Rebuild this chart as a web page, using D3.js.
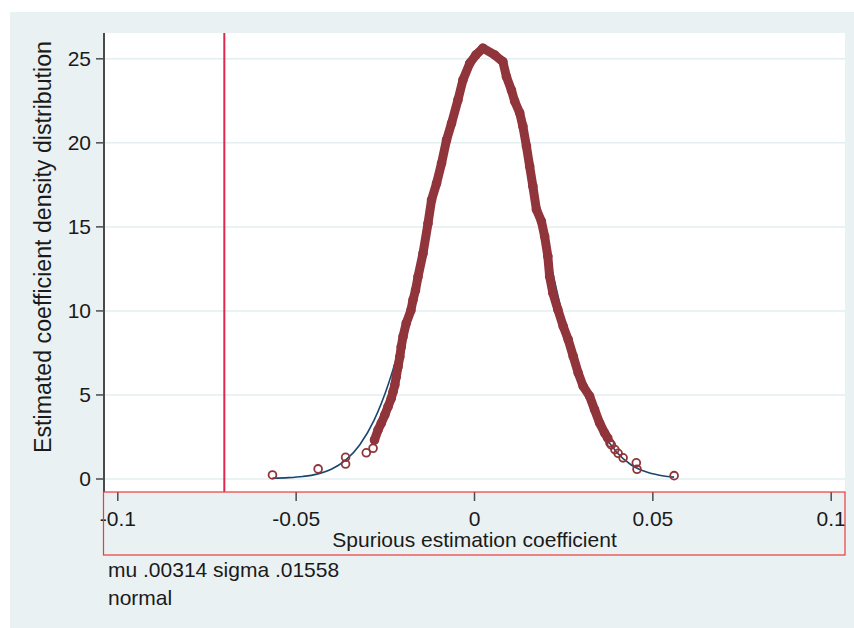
<!DOCTYPE html>
<html>
<head>
<meta charset="utf-8">
<script src="https://cdn.jsdelivr.net/npm/d3@7/dist/d3.min.js"></script>
<style>
  body { margin: 0; background: #fff; }
  #chart { width: 854px; height: 628px; }
  text { font-family: "Liberation Sans", Arial, sans-serif; fill: #1a1a1a; }
</style>
</head>
<body>
<div id="chart"></div>
<script>
// tick values / labels
const xTicks = [-0.1, -0.05, 0, 0.05, 0.1];
const xTickLabels = ['-0.1', '-0.05', '0', '0.05', '0.1'];
const yTicks = [0, 5, 10, 15, 20, 25];
const xTitle = 'Spurious estimation coefficient';
const yTitle = 'Estimated coefficient density distribution';
const notes = ['mu .00314 sigma .01558', 'normal'];
const xLineAt = -0.07;

// kernel density estimates (markers)
const densX = [-0.0565, -0.0437, -0.0360, -0.0360, -0.0302, -0.0283, -0.0279, -0.0269, -0.0260, -0.0250,
               -0.0241, -0.0232, -0.0227, -0.0222, -0.0218, -0.0213, -0.0208, -0.0204, -0.0199, -0.0190,
               -0.0177, -0.0171, -0.0164, -0.0157, -0.0143, -0.0129, -0.0119, -0.0105, -0.0091, -0.0077,
               -0.0063, -0.0045, -0.0031, -0.0012, 0.0005, 0.0025, 0.0058, 0.0081, 0.0091, 0.0105,
               0.0114, 0.0128, 0.0137, 0.0147, 0.0156, 0.0165, 0.0175, 0.0189, 0.0198, 0.0207,
               0.0212, 0.0221, 0.0235, 0.0250, 0.0264, 0.0278, 0.0292, 0.0306, 0.0324, 0.0338,
               0.0352, 0.0366, 0.0375, 0.0381, 0.0385, 0.0395, 0.0404, 0.0418, 0.0455, 0.0457, 0.0561];
const densY = [0.21, 0.57, 0.86, 1.26, 1.53, 1.80, 2.29, 2.89, 3.29, 3.78,
               4.27, 4.77, 5.16, 5.56, 6.05, 6.65, 7.24, 7.84, 8.44, 9.24,
               10.0, 10.62, 11.2, 12.0, 13.39, 15.17, 16.57, 17.56, 18.75, 20.14,
               21.13, 22.52, 23.71, 24.70, 25.19, 25.60, 25.2, 24.8, 23.9, 23.1,
               22.45, 21.76, 20.96, 19.77, 18.58, 17.39, 16.0, 15.3, 14.41, 13.22,
               12.03, 11.04, 10.05, 9.06, 8.27, 7.28, 6.29, 5.49, 4.90, 4.10,
               3.31, 2.72, 2.40, 2.12, 2.0, 1.72, 1.5, 1.23, 0.93, 0.55, 0.17];

// normal density overlay
const normalX = [-0.0565, -0.052, -0.048, -0.044, -0.040, -0.036, -0.032, -0.028, -0.024, -0.020,
                 -0.016, -0.012, -0.008, -0.004, 0.000, 0.003, 0.004, 0.008, 0.012, 0.016,
                 0.020, 0.024, 0.028, 0.032, 0.036, 0.040, 0.044, 0.048, 0.052, 0.0561];
const normalY = [0.02, 0.05, 0.12, 0.26, 0.55, 1.09, 2.01, 3.47, 5.62, 8.50,
                 12.03, 15.97, 19.83, 23.05, 25.09, 25.6, 25.57, 24.39, 21.78, 18.21,
                 14.26, 10.45, 7.17, 4.61, 2.77, 1.56, 0.82, 0.41, 0.19, 0.08];

const chart = {};

chart.create = function(config){
  chart.config = config;
  this.config.width_svg = 854;
  this.config.height_svg = 628;
  this.config.plot = {left: 104, right: 845, top: 33, bottom: 492};
  this.config.colorRule = {
    'bg': '#eaf1f3',
    'grid': '#e3eef0',
    'axis': '#4a4a4a',
    'marker': '#90353b',
    'normal': '#1a476f',
    'xline': '#e0284f',
    'box': '#ee3a3c'
  };
  this.config.svg = d3.select(`#${this.config.target}`)
                      .append('svg')
                      .attr('width', this.config.width_svg)
                      .attr('height', this.config.height_svg);
  this.update();
}

chart.update = function(){
  let plot = this.config.plot,
      colorRule = this.config.colorRule,
      svg = this.config.svg.append('g');
  let dens = densX.map((d, i) => [d, densY[i]]);
  let normal = normalX.map((d, i) => [d, normalY[i]]);

  let xScale = d3.scaleLinear()
                .domain([-0.1, 0.1])
                .range([117.3, 830.7]);
  let yScale = d3.scaleLinear()
                .domain([0, 25])
                .range([478.5, 58.3]);

  // graph region + plot region
  svg.append('rect')
    .attr('x', 10).attr('y', 12)
    .attr('width', 844).attr('height', 616)
    .attr('fill', colorRule.bg);
  svg.append('rect')
    .attr('x', plot.left).attr('y', plot.top)
    .attr('width', plot.right - plot.left).attr('height', plot.bottom - plot.top)
    .attr('fill', '#fff');

  let yAxis = g => g.attr('transform', `translate(${plot.left}, 0)`)
                  .call(d3.axisLeft(yScale).tickValues(yTicks).tickSize(8).tickPadding(5).tickFormat(d3.format('d')))
                  .call(g => g.select('.domain').remove())
                  .call(g => g.selectAll('.tick line').clone()
                              .attr('x1', 0)
                              .attr('x2', plot.right - plot.left)
                              .attr('stroke', colorRule.grid)
                              .attr('stroke-width', 1.5))
                  .call(g => g.selectAll('.tick line:first-of-type')
                              .attr('stroke', colorRule.axis)
                              .attr('stroke-width', 1.5))
                  .call(g => g.selectAll('.tick text')
                              .attr('font-size', 21)
                              .attr('fill', '#1a1a1a'));
  let xAxis = g => g.attr('transform', `translate(0, ${plot.bottom})`)
                  .call(d3.axisBottom(xScale).tickValues(xTicks).tickSize(9).tickPadding(10)
                          .tickFormat((d, i) => xTickLabels[i]))
                  .call(g => g.select('.domain').remove())
                  .call(g => g.selectAll('.tick line')
                              .attr('stroke', colorRule.axis)
                              .attr('stroke-width', 1.5))
                  .call(g => g.selectAll('.tick text')
                              .attr('font-size', 21)
                              .attr('fill', '#1a1a1a'));

  svg.append('g').call(yAxis);
  svg.append('g').call(xAxis);

  // y axis line
  svg.append('line')
    .attr('x1', plot.left).attr('x2', plot.left)
    .attr('y1', plot.top).attr('y2', plot.bottom)
    .attr('stroke', colorRule.axis)
    .attr('stroke-width', 2);

  // xline
  svg.append('line')
    .attr('x1', xScale(xLineAt)).attr('x2', xScale(xLineAt))
    .attr('y1', plot.top).attr('y2', plot.bottom)
    .attr('stroke', colorRule.xline)
    .attr('stroke-width', 2);

  // normal overlay
  let line = d3.line()
              .x(d => xScale(d[0]))
              .y(d => yScale(d[1]))
              .curve(d3.curveMonotoneX);
  svg.append('path')
    .attr('fill', 'none')
    .attr('stroke', colorRule.normal)
    .attr('stroke-width', 1.6)
    .attr('d', line(normal));

  // markers are packed so tightly in the body that they read as a band
  let band = dens.filter(d => d[1] >= 2.2);
  svg.append('path')
    .attr('fill', 'none')
    .attr('stroke', colorRule.marker)
    .attr('stroke-width', 9)
    .attr('stroke-linejoin', 'round')
    .attr('stroke-linecap', 'round')
    .attr('d', d3.line().x(d => xScale(d[0])).y(d => yScale(d[1]))(band));
  svg.append('g')
    .selectAll('circle')
    .data(dens)
    .enter().append('circle')
            .attr('cx', d => xScale(d[0]))
            .attr('cy', d => yScale(d[1]))
            .attr('r', 3.9)
            .attr('fill', 'none')
            .attr('stroke', colorRule.marker)
            .attr('stroke-width', 1.8);

  // outline around the x axis area
  svg.append('rect')
    .attr('x', 103.5).attr('y', plot.bottom)
    .attr('width', 741.5).attr('height', 63)
    .attr('fill', 'none')
    .attr('stroke', colorRule.box)
    .attr('stroke-width', 1.2);

  // titles
  svg.append('text')
    .attr('x', (plot.left + plot.right) / 2)
    .attr('y', 547)
    .attr('text-anchor', 'middle')
    .attr('font-size', 21)
    .text(xTitle);
  svg.append('text')
    .attr('transform', `translate(51, 247) rotate(-90)`)
    .attr('text-anchor', 'middle')
    .attr('font-size', 23)
    .attr('textLength', 412)
    .attr('lengthAdjust', 'spacingAndGlyphs')
    .text(yTitle);

  svg.append('g')
    .selectAll('text')
    .data(notes)
    .enter().append('text')
            .attr('x', 108)
            .attr('y', (d, i) => 577 + i * 28)
            .attr('font-size', 21)
            .text(d => d);
}

chart.create({target: 'chart'});
</script>
</body>
</html>
